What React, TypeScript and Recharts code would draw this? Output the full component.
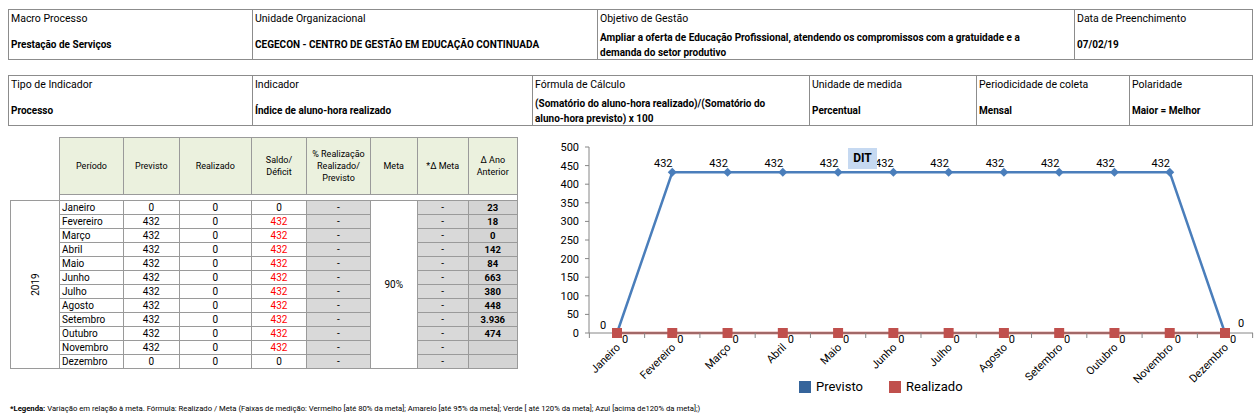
import { LineChart, Line, XAxis, YAxis } from 'recharts';

const months = ['Janeiro', 'Fevereiro', 'Março', 'Abril', 'Maio', 'Junho', 'Julho', 'Agosto', 'Setembro', 'Outubro', 'Novembro', 'Dezembro'];
const previsto = [0, 432, 432, 432, 432, 432, 432, 432, 432, 432, 432, 0];
const realizado = [0, 0, 0, 0, 0, 0, 0, 0, 0, 0, 0, 0];
const saldo = [0, 432, 432, 432, 432, 432, 432, 432, 432, 432, 432, 0];
const deltaAnoAnterior = ['23', '18', '0', '142', '84', '663', '380', '448', '3.936', '474', '', ''];
const meta = '90%';
const yTicks = [0, 50, 100, 150, 200, 250, 300, 350, 400, 450, 500];

const chartData = months.map((m, i) => ({ month: m, previsto: previsto[i], realizado: realizado[i] }));

const FONT = "Roboto, 'Liberation Sans', sans-serif";
const BLUE = '#4a7ebb';
const RED = '#be4b48';
const GRID = '#868686';
const HALF = 27.64; // half a category band, for Excel-style ticks between months

const info1 = [
  { left: 8, right: 253, label: 'Macro Processo', value: ['Prestação de Serviços'] },
  { left: 253, right: 598, label: 'Unidade Organizacional', value: ['CEGECON - CENTRO DE GESTÃO EM EDUCAÇÃO CONTINUADA'] },
  { left: 598, right: 1075, label: 'Objetivo de Gestão', value: ['Ampliar a oferta de Educação Profissional, atendendo os compromissos com a gratuidade e a', 'demanda do setor produtivo'] },
  { left: 1075, right: 1253, label: 'Data de Preenchimento', value: ['07/02/19'] },
];
const info2 = [
  { left: 8, right: 253, label: 'Tipo de Indicador', value: ['Processo'] },
  { left: 253, right: 533, label: 'Indicador', value: ['Índice de aluno-hora realizado'] },
  { left: 533, right: 810, label: 'Fórmula  de Cálculo', value: ['(Somatório do aluno-hora realizado)/(Somatório do', 'aluno-hora previsto) x 100'] },
  { left: 810, right: 977, label: 'Unidade de medida', value: ['Percentual'] },
  { left: 977, right: 1130, label: 'Periodicidade de coleta', value: ['Mensal'] },
  { left: 1130, right: 1253, label: 'Polaridade', value: ['Maior = Melhor'] },
];

function InfoRow({ top, cells }: { top: number; cells: typeof info1 }) {
  return (
    <>
      {cells.map((c, i) => (
        <div
          key={i}
          style={{
            position: 'absolute', left: c.left, top, width: c.right - c.left, height: 51,
            boxSizing: 'border-box', border: '1px solid #8c8c8c', borderLeftWidth: i === 0 ? 1 : 0,
            fontFamily: FONT, color: '#000',
          }}
        >
          <div style={{ position: 'absolute', left: 2, top: 2, fontSize: 10.5 }}>{c.label}</div>
          <div
            style={{
              position: 'absolute', left: 2, top: c.value.length > 1 ? 20 : 27,
              fontSize: 10, fontWeight: 700, lineHeight: '15px', whiteSpace: 'nowrap',
            }}
          >
            {c.value.map((v, j) => <div key={j}>{v}</div>)}
          </div>
        </div>
      ))}
    </>
  );
}

const cols = [49, 64, 55.5, 72.5, 55, 64, 46.5, 51.5, 48.5];
const bd = '1px solid #9a9a9a';
const dotted = {
  backgroundImage: 'repeating-conic-gradient(#a8a8a8 0% 25%, #ffffff 0% 50%)',
  backgroundSize: '2px 2px',
};

function DataTable() {
  const th: React.CSSProperties = { border: bd, background: '#ebf1de', fontWeight: 400, fontSize: 9, lineHeight: '12px', padding: 0, textAlign: 'center' };
  const td: React.CSSProperties = { border: bd, padding: 0, height: 13, fontSize: 10, lineHeight: '13px', textAlign: 'center' };
  return (
    <table
      style={{
        position: 'absolute', left: 10, top: 137, borderCollapse: 'collapse', tableLayout: 'fixed',
        width: cols.reduce((a, b) => a + b, 0), fontFamily: FONT, color: '#000',
      }}
    >
      <colgroup>
        {cols.map((w, i) => <col key={i} style={{ width: w }} />)}
      </colgroup>
      <tbody>
        <tr style={{ height: 57 }}>
          <td style={{ border: 'none', padding: 0 }} />
          <th style={th}>Período</th>
          <th style={th}>Previsto</th>
          <th style={th}>Realizado</th>
          <th style={th}>Saldo/<br />Déficit</th>
          <th style={th}>% Realização<br />Realizado/<br />Previsto</th>
          <th style={th}>Meta</th>
          <th style={th}>*Δ Meta</th>
          <th style={th}>Δ Ano<br />Anterior</th>
        </tr>
        <tr style={{ height: 6 }}>
          <td style={{ border: 'none', padding: 0 }} />
          <td colSpan={8} style={{ border: bd, padding: 0, height: 4 }} />
        </tr>
        {months.map((m, i) => (
          <tr key={m}>
            {i === 0 && (
              <td rowSpan={12} style={{ border: bd, padding: 0, position: 'relative' }}>
                <div style={{ transform: 'rotate(-90deg)', fontSize: 10, textAlign: 'center' }}>2019</div>
              </td>
            )}
            <td style={{ ...td, textAlign: 'left', paddingLeft: 2 }}>{m}</td>
            <td style={td}>{previsto[i]}</td>
            <td style={td}>{realizado[i]}</td>
            <td style={{ ...td, color: saldo[i] > 0 ? '#ff0000' : '#000' }}>{saldo[i]}</td>
            <td style={{ ...td, background: '#d9d9d9' }}>-</td>
            {i === 0 && (
              <td rowSpan={12} style={{ border: bd, padding: 0, fontSize: 10, textAlign: 'center' }}>{meta}</td>
            )}
            <td style={{ ...td, background: '#d9d9d9' }}>-</td>
            <td style={{ ...td, ...dotted, fontWeight: 700, fontSize: 9.5 }}>{deltaAnoAnterior[i]}</td>
          </tr>
        ))}
      </tbody>
    </table>
  );
}

function MonthTick(props: any) {
  const { x, y, payload, index } = props;
  const last = index === months.length - 1;
  return (
    <g>
      <line x1={x - HALF} y1={y} x2={x - HALF} y2={y + 5} stroke={GRID} />
      {last && <line x1={x + HALF} y1={y} x2={x + HALF} y2={y + 5} stroke={GRID} />}
      <text
        x={x + 4}
        y={y + 15}
        textAnchor="end"
        transform={`rotate(-45 ${x + 4} ${y + 15})`}
        fontSize={11}
        fontFamily={FONT}
        fill="#000"
      >
        {payload.value}
      </text>
    </g>
  );
}

function PrevLabel(props: any) {
  const { x, y, value, index } = props;
  let dx = -9;
  let dy = -5;
  if (value === 0) {
    dx = index === 0 ? -14 : 16;
    dy = index === 0 ? -4 : -6;
  }
  return (
    <text x={x + dx} y={y + dy} textAnchor="middle" fontSize={11} fontFamily={FONT} fill="#000">
      {value}
    </text>
  );
}

function RealLabel(props: any) {
  const { x, y, value } = props;
  return (
    <text x={x + 8} y={y + 10} textAnchor="middle" fontSize={11} fontFamily={FONT} fill="#000">
      {value}
    </text>
  );
}

function Diamond(props: any) {
  const { cx, cy } = props;
  const r = 4.5;
  return <polygon points={`${cx},${cy - r} ${cx + r},${cy} ${cx},${cy + r} ${cx - r},${cy}`} fill={BLUE} />;
}

function Square(props: any) {
  const { cx, cy } = props;
  return <rect x={cx - 5} y={cy - 5} width={10} height={10} fill="#c0504d" />;
}

export default function App() {
  return (
    <div style={{ position: 'absolute', left: 0, top: 0, width: 1254, height: 419, background: '#fff', overflow: 'hidden' }}>
      <InfoRow top={9} cells={info1} />
      <InfoRow top={75} cells={info2} />
      <DataTable />

      <div style={{ position: 'absolute', left: 530, top: 140 }}>
        <LineChart width={724} height={279} data={chartData} margin={{ top: 7, right: 1, left: 19, bottom: 26 }}>
          <XAxis
            dataKey="month"
            interval={0}
            padding={{ left: 28, right: 28 }}
            tickLine={false}
            tickSize={0}
            tickMargin={0}
            height={60}
            axisLine={{ stroke: GRID }}
            tick={<MonthTick />}
          />
          <YAxis
            domain={[0, 500]}
            ticks={yTicks}
            width={40}
            tickSize={4}
            tickMargin={6}
            axisLine={{ stroke: GRID }}
            tickLine={{ stroke: GRID }}
            tick={{ fontSize: 11, fill: '#000', fontFamily: FONT }}
          />
          <Line
            dataKey="previsto"
            stroke={BLUE}
            strokeWidth={2.5}
            dot={<Diamond />}
            label={<PrevLabel />}
            isAnimationActive={false}
          />
          <Line
            dataKey="realizado"
            stroke={RED}
            strokeWidth={2.5}
            dot={<Square />}
            label={<RealLabel />}
            isAnimationActive={false}
          />
        </LineChart>
        <div
          style={{
            position: 'absolute', left: 318, top: 8, width: 29, height: 21, background: '#c6d9f1',
            fontFamily: FONT, fontWeight: 700, fontSize: 12, lineHeight: '21px', textAlign: 'center',
          }}
        >
          DIT
        </div>
      </div>

      <div style={{ position: 'absolute', left: 799, top: 379, display: 'flex', alignItems: 'center', fontFamily: FONT, fontSize: 13 }}>
        <span style={{ width: 12, height: 12, background: '#35649b', marginRight: 5 }} />
        <span style={{ marginRight: 26 }}>Previsto</span>
        <span style={{ width: 12, height: 12, background: '#c0504d', marginRight: 5 }} />
        <span>Realizado</span>
      </div>

      <div style={{ position: 'absolute', left: 10, top: 404, fontFamily: FONT, fontSize: 7.7, whiteSpace: 'nowrap', color: '#000' }}>
        <b>*Legenda:</b> Variação em relação à meta. Fórmula: Realizado / Meta (Faixas de medição: Vermelho [até 80% da meta]; Amarelo [até 95% da meta]; Verde [ até 120% da meta]; Azul [acima de120% da meta];)
      </div>
    </div>
  );
}
